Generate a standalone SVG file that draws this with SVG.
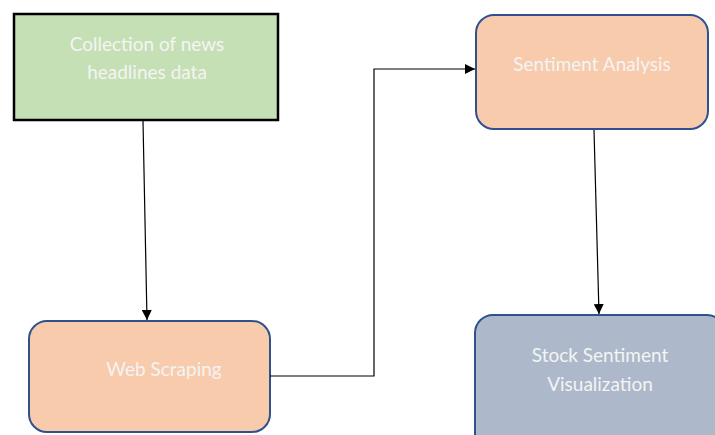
<svg xmlns="http://www.w3.org/2000/svg" width="715" height="435" viewBox="0 0 715 435">
<defs>
<marker id="ah" viewBox="0 0 10 10" refX="10" refY="5" markerWidth="10" markerHeight="10" markerUnits="userSpaceOnUse" orient="auto">
<path d="M0,0 L10,5 L0,10 z" fill="#000"/>
</marker>
<style>
.lbl{font-family:Lato,"Open Sans","Liberation Sans",sans-serif;font-size:19px;fill:#f4f4f4;text-anchor:middle}
.rnd{stroke:#2f528f;stroke-width:2}
.con{fill:none;stroke:#000;stroke-width:1.2}
</style>
</defs>
<rect width="715" height="435" fill="#fff"/>
<g id="n1">
<rect x="14" y="14" width="264" height="106" fill="#c5e0b4" stroke="#000" stroke-width="2.5"/>
<text class="lbl" x="147" y="51">Collection of news</text>
<text class="lbl" x="147" y="79">headlines data</text>
</g>
<g id="n2">
<rect class="rnd" x="476" y="15" width="232" height="114" rx="18" fill="#f8cbad"/>
<text class="lbl" x="592" y="71">Sentiment Analysis</text>
</g>
<g id="n3">
<rect class="rnd" x="29" y="321" width="241" height="111" rx="18" fill="#f8cbad"/>
<text class="lbl" x="164" y="376">Web Scraping</text>
</g>
<g id="n4">
<rect class="rnd" x="475" y="315" width="250" height="140" rx="18" fill="#adb9ca"/>
<text class="lbl" x="600" y="362">Stock Sentiment</text>
<text class="lbl" x="600" y="391">Visualization</text>
</g>
<g id="connectors">
<path class="con" d="M143,121 L147,320" marker-end="url(#ah)"/>
<path class="con" d="M270,376 L374,376 L374,69 L475,69" marker-end="url(#ah)"/>
<path class="con" d="M594,130 L599,314" marker-end="url(#ah)"/>
</g>
</svg>
